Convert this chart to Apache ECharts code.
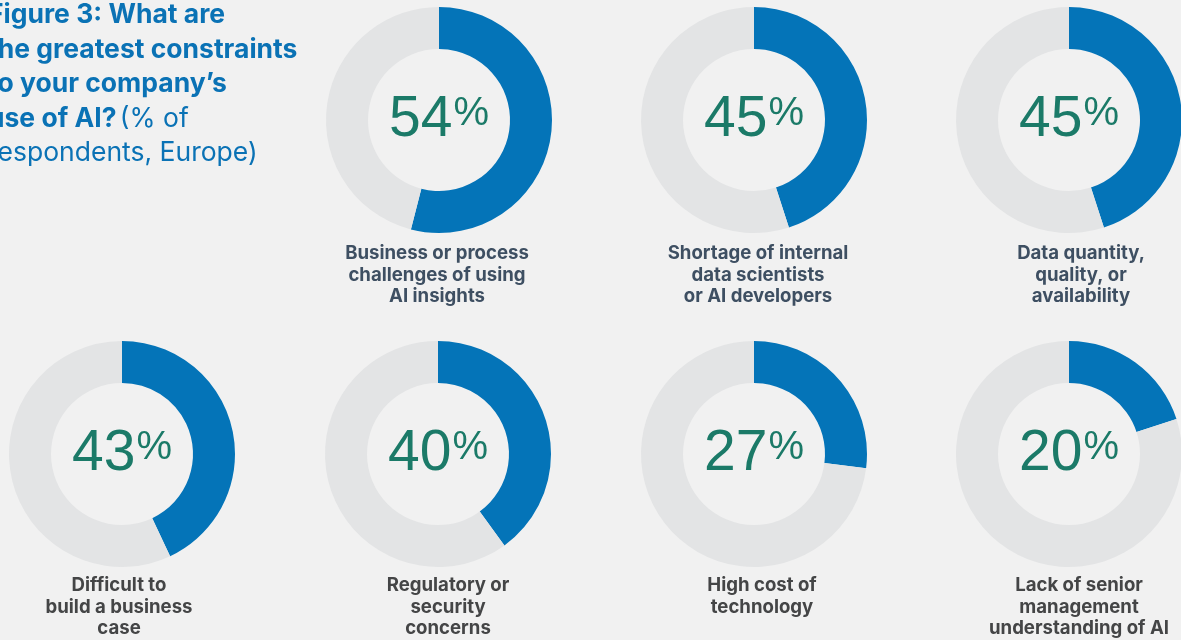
<!DOCTYPE html>
<html><head><meta charset="utf-8">
<style>html,body{margin:0;padding:0;background:#f1f1f1;}#c{width:1181px;height:640px;}</style>
<script src="https://cdn.jsdelivr.net/npm/echarts@6/dist/echarts.min.js"></script>
</head><body><div id="c"></div>
<script>
const categories = [
  'Business or process\nchallenges of using\nAI insights',
  'Shortage of internal\ndata scientists\nor AI developers',
  'Data quantity,\nquality, or\navailability',
  'Difficult to\nbuild a business\ncase',
  'Regulatory or\nsecurity\nconcerns',
  'High cost of\ntechnology',
  'Lack of senior\nmanagement\nunderstanding of AI'
];
const values = [54, 45, 45, 43, 40, 27, 20];
// layout (pixels)
const centers = [[439,120],[754,120],[1069,120],[122,454],[438,454],[754,454],[1069,454]];
const labelX = [432, 753, 1076, 114, 443, 757, 1074];

const chart = echarts.init(document.getElementById('c'));
const BLUE = '#0474b8', GREY = '#e3e4e5';
const series = values.map((v, i) => ({
  type: 'pie',
  center: centers[i],
  radius: [71, 113],
  startAngle: 90,
  clockwise: true,
  silent: true,
  animation: false,
  labelLine: {show: false},
  data: [
    {value: v, itemStyle: {color: BLUE},
     label: {show: true, position: 'center', formatter: '{a|' + v + '}{b|%}',
       rich: {
         a: {fontFamily: 'Liberation Sans', fontSize: 57, color: '#1b7a68', lineHeight: 58, verticalAlign: 'bottom'},
         b: {fontFamily: 'Liberation Sans', fontSize: 40, color: '#1b7a68', lineHeight: 58, verticalAlign: 'top', padding: [3,0,0,1]}
       }}},
    {value: 100 - v, itemStyle: {color: GREY}, label: {show: false}}
  ]
}));
const titles = categories.map((c, i) => ({
  text: c,
  left: labelX[i],
  top: centers[i][1] + (i < 3 ? 118 : 116),
  textAlign: 'center',
  textStyle: {fontFamily: 'Inter', fontWeight: 'bold', fontSize: 18.6, color: i < 3 ? '#3e4f62' : '#444546', lineHeight: 21.5}
}));
chart.setOption({
  backgroundColor: '#f1f1f1',
  title: titles,
  series: series,
  graphic: [{
    type: 'text', left: -12, top: 2,
    style: {
      text: '{b|Figure 3: What are}\n{b|the greatest constraints}\n{b|to your company\u2019s}\n{b|use of AI?} {n|(% of}\n{n|respondents, Europe)}',
      rich: {
        b: {fontFamily: 'Inter', fontWeight: 'bold', fontSize: 26.5, fill: '#0a72b5', lineHeight: 34.5},
        n: {fontFamily: 'Inter', fontWeight: 'normal', fontSize: 26.5, fill: '#0a72b5', lineHeight: 34.5}
      }
    }
  }]
});
</script></body></html>
